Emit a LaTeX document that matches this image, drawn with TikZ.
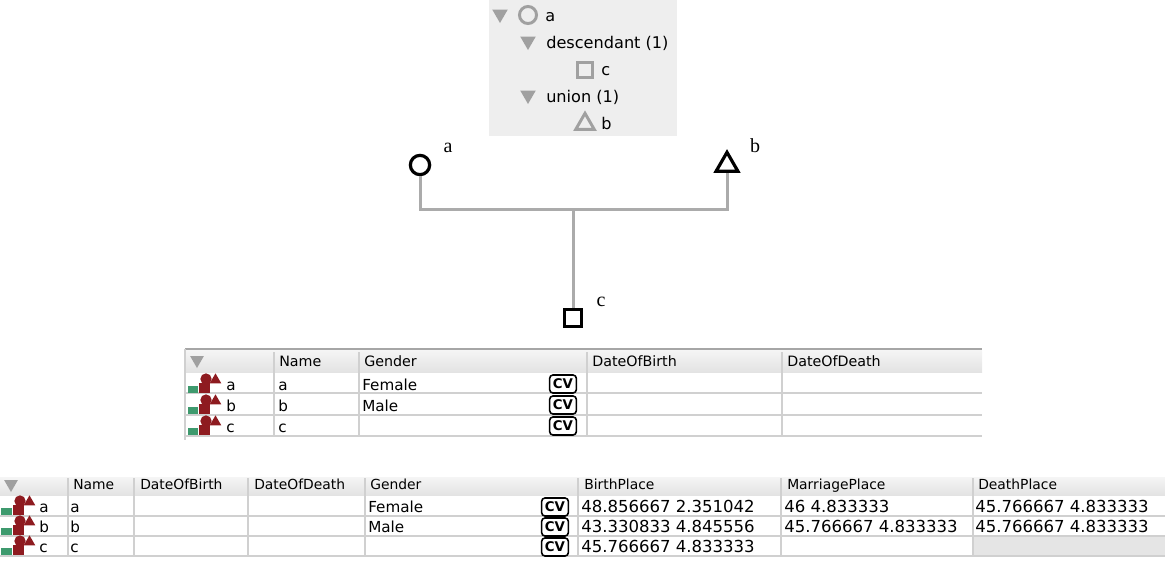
\documentclass[tikz,border=0pt]{standalone}
\usepackage{fontspec}
\setmainfont{DejaVu Sans}
\newfontfamily\labelfont{Liberation Serif}
\usetikzlibrary{shapes.geometric}
\definecolor{panelgray}{HTML}{EEEEEE}
\definecolor{treegray}{HTML}{A0A0A0}
\definecolor{linkgray}{HTML}{ABABAB}
\definecolor{gridgray}{HTML}{D0D0D0}
\definecolor{iconred}{HTML}{8E1B20}
\definecolor{icongreen}{HTML}{3E9A6E}

\begin{document}
\begin{tikzpicture}[x=0.75pt,y=-0.75pt]
    \tikzstyle{person}=[draw=black,fill=white,line width=2.4pt,inner sep=0pt]
    \tikzstyle{marker}=[draw=treegray,fill=none,line width=2.2pt,inner sep=0pt]
    \tikzstyle{tri}=[regular polygon,regular polygon sides=3]
    \tikzstyle{arrowdown}=[tri,shape border rotate=180,fill=treegray,inner sep=0pt,minimum size=13.5pt]
    \tikzstyle{tree}=[anchor=base west,inner sep=0pt,font=\fontsize{12.1}{14}\selectfont]
    \tikzstyle{head}=[anchor=base west,inner sep=0pt,font=\fontsize{10.7}{13}\selectfont]
    \tikzstyle{headb}=[anchor=base west,inner sep=0pt,font=\fontsize{10.4}{13}\selectfont]
    \tikzstyle{cell}=[anchor=base west,inner sep=0pt,font=\fontsize{11.4}{13}\selectfont]
    \tikzstyle{place}=[anchor=base west,inner sep=0pt,font=\fontsize{12.4}{14}\selectfont]
    \tikzstyle{tag}=[serif,anchor=base,inner sep=0pt]
    \tikzstyle{cvbox}=[draw=black,line width=1.2pt,rounded corners=2.5pt,minimum width=20pt,minimum height=13.5pt,inner sep=0pt,font=\bfseries\fontsize{10}{10}\selectfont]
    \tikzstyle{link}=[draw=linkgray,line width=2.25pt]
    \tikzstyle{grid}=[draw=gridgray,line width=0.8pt]
    \tikzset{serif/.style={font=\labelfont\fontsize{15}{17}\selectfont}}
    \useasboundingbox (0,0) rectangle (1165,561);

    % tree panel
    \fill[panelgray] (489,0) rectangle (677,136);
    \foreach \num/\x/\y in {1/500/14, 2/528/41, 3/528/95}
        \node[arrowdown] (T-\num) at (\x,\y) {};
    \node[marker,circle,minimum size=12.8pt] (M-a) at (528,15) {};
    \node[marker,line width=2.4pt,minimum size=11.5pt] (M-c) at (585,70) {};
    \node[marker,tri,minimum size=16pt] (M-b) at (585,124) {};
    \foreach \num/\x/\y/\txt in {a/545/21/a, d/546/48/descendant (1), c/601/75/c, u/546/102/union (1), b/601/129/b}
        \node[tree] (L-\num) at (\x,\y) {\txt};

    % pedigree
    \coordinate (J) at (573,209);
    \node[person,circle,minimum size=14.5pt] (V-a) at (420,165) {};
    \node[person,tri,minimum size=19pt] (V-b) at (727,165) {};
    \node[person,minimum size=12.5pt] (V-c) at (573,318) {};
    \draw[link] (V-a) |- (J) -| (V-b);
    \draw[link] (J) -- (V-c);
    \node[tag] (N-a) at (448,152) {a};
    \node[tag] (N-b) at (755,152) {b};
    \node[tag] (N-c) at (601,306) {c};

    % first table
    \shade[top color=white!96!black,bottom color=white!89!black] (185,350) rectangle (982,372);
    \draw[grid,draw=gridgray!80!black] (185,349) -- (982,349);
    \foreach \y in {393, 415, 436}
        \draw[grid] (185,\y) -- (982,\y);
    \draw[grid] (185,349) -- (185,440);
    \foreach \x in {274, 359, 587, 782}
        \draw[grid] (\x,352) -- (\x,436);
    \node[arrowdown,minimum size=12pt] (T-4) at (197,360) {};
    \foreach \num/\x/\txt in {1/279/Name, 2/364/Gender, 3/592/DateOfBirth, 4/787/DateOfDeath}
        \node[head] (H-\num) at (\x,366) {\txt};
    \foreach \num/\y/\nm/\gen in {a/390/a/Female, b/411/b/Male, c/432/c/{}}{
        \node[cell] (R-\num) at (226,\y) {\nm};
        \node[cell] (S-\num) at (278,\y) {\nm};
        \node[cell] (G-\num) at (362,\y) {\gen};
        \node[cvbox] (C-\num) at (563,\y-6) {CV};
    }

    % second table
    \fill[white!90!black] (973,537) rectangle (1165,556);
    \shade[top color=white!96!black,bottom color=white!89!black] (0,477) rectangle (1165,495);
    \foreach \y in {516, 536, 556}
        \draw[grid] (0,\y) -- (1165,\y);
    \foreach \x in {68, 134, 248, 365, 578, 781, 973}
        \draw[grid] (\x,478) -- (\x,556);
    \node[arrowdown,minimum size=12pt] (T-5) at (11,484) {};
    \foreach \num/\x/\txt in {1/73/Name, 2/140/DateOfBirth, 3/254/DateOfDeath, 4/370/Gender, 5/584/BirthPlace, 6/787/MarriagePlace, 7/978/DeathPlace}
        \node[headb] (K-\num) at (\x,489) {\txt};
    \foreach \num/\y/\nm/\gen in {a/512/a/Female, b/532/b/Male, c/552/c/{}}{
        \node[cell] (P-\num) at (39,\y) {\nm};
        \node[cell] (Q-\num) at (70,\y) {\nm};
        \node[cell] (W-\num) at (368,\y) {\gen};
        \node[cvbox] (D-\num) at (555,\y-5) {CV};
    }
    \foreach \num/\x/\y/\txt in {1/581/512/48.856667 2.351042, 2/581/532/43.330833 4.845556, 3/581/552/45.766667 4.833333,
            4/784/512/46 4.833333, 5/784/532/45.766667 4.833333,
            6/975/512/45.766667 4.833333, 7/975/532/45.766667 4.833333}
        \node[place] (B-\num) at (\x,\y) {\txt};

    % row icons
    \foreach \num/\x/\y in {a/188/384, b/188/405, c/188/426, d/2/506, e/2/526, f/2/546}{
        \node[fill=iconred,minimum size=8pt,inner sep=0pt] (I-\num-s) at (\x+16.7,\y+4) {};
        \node[fill=iconred,circle,minimum size=8.5pt,inner sep=0pt] (I-\num-o) at (\x+18,\y-5) {};
        \node[fill=iconred,tri,minimum size=10pt,inner sep=0pt] (I-\num-t) at (\x+27.5,\y-4) {};
        \node[fill=icongreen,minimum width=7.5pt,minimum height=5pt,inner sep=0pt] (I-\num-g) at (\x+4.5,\y+5.7) {};
    }
\end{tikzpicture}
\end{document}
